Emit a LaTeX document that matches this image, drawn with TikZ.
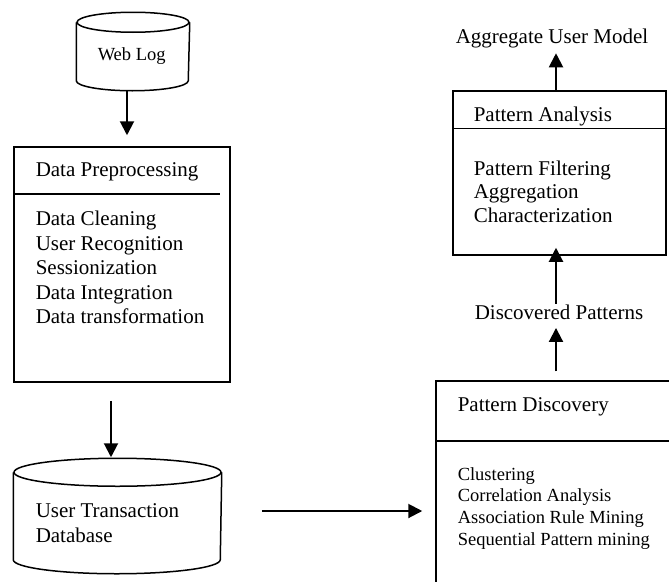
\documentclass[tikz,border=0pt]{standalone}
\usepackage{fontspec}
\setmainfont{Liberation Serif}
\usetikzlibrary{arrows.meta}

\begin{document}
\begin{tikzpicture}[x=1pt,y=-1pt,line width=1.5pt,
        big/.style={font=\fontsize{21}{24}\selectfont},
        small/.style={font=\fontsize{18.5}{22}\selectfont},
        txt/.style={inner sep=0pt,anchor=base west},
        box/.style={draw,rectangle,inner sep=0pt},
        store/.style={rectangle,inner sep=0pt},
        flow/.style={-{Triangle[length=14pt,width=14pt]},line width=2pt}]

            \useasboundingbox (0,0) rectangle (669,581);
            \clip (0,0) rectangle (669,581);

            \node[store,minimum width=112pt,minimum height=77pt] (weblog) at (133,51.5) {};
            \draw ([yshift=-10pt]weblog.north west) -- ([yshift=10pt]weblog.south west)
                arc[start angle=180,end angle=360,x radius=56pt,y radius=10pt]
                -- ([yshift=-10pt]weblog.north east);
            \draw ([yshift=-10pt]weblog.north) ellipse[x radius=56pt,y radius=10pt];
            \node[small,txt] (weblogtxt) at (97,60) {Web Log};

            \node[box,minimum width=216pt,minimum height=235pt] (prep) at (122,264.5) {};
            \node[big,txt] (prephead) at (35,176.7) {Data Preprocessing};
            \draw (prep.west |- 0,194) -- (220,194);
            \foreach \t [count=\i] in {Data Cleaning,User Recognition,Sessionization,Data Integration,Data transformation}
                \node[big,txt] (prep\i) at (35,{201.4+24.4*\i}) {\t};

            \node[store,minimum width=207pt,minimum height=114pt] (db) at (117.5,516) {};
            \draw ([yshift=-14pt]db.north west) -- ([yshift=14pt]db.south west)
                arc[start angle=180,end angle=360,x radius=103.5pt,y radius=14pt]
                -- ([yshift=-14pt]db.north east);
            \draw ([yshift=-14pt]db.north) ellipse[x radius=103.5pt,y radius=14pt];
            \node[big,txt] (dbtxt1) at (35,517) {User Transaction};
            \node[big,txt] (dbtxt2) at (35,542) {Database};

            \node[box,minimum width=254pt,minimum height=219pt] (pd) at (563,490.5) {};
            \node[big,txt] (pdhead) at (457,411.7) {Pattern Discovery};
            \draw (pd.west |- 0,441) -- (pd.east |- 0,441);
            \foreach \t [count=\i] in {Clustering,Correlation Analysis,Association Rule Mining,Sequential Pattern mining}
                \node[small,txt] (pd\i) at (457,{458.1+21.9*\i}) {\t};

            \node[big,txt] (dp) at (474,319) {Discovered Patterns};

            \node[box,minimum width=213pt,minimum height=164pt] (pa) at (559.5,173) {};
            \node[big,txt] (pahead) at (473,121.7) {Pattern Analysis};
            \draw (pa.west |- 0,128.5) -- (pa.east |- 0,128.5);
            \foreach \t [count=\i] in {Pattern Filtering,Aggregation,Characterization}
                \node[big,txt] (pa\i) at (473,{151.2+23.8*\i}) {\t};

            \node[big,txt] (aum) at (455,43) {Aggregate User Model};

            \coordinate (axis) at (556,0);
            \draw[flow,shorten >=11pt] (weblog.south -| 127,0) -- (prep.north -| 127,0);
            \draw[flow,shorten <=18pt,shorten >=1pt] (prep.south -| 111,0) -- (db.north -| 111,0);
            \draw[flow,shorten <=40pt,shorten >=13pt] (db.east |- 0,511) -- (pd.west |- 0,511);
            \draw[flow,shorten <=9pt,shorten >=8pt] (pd.north -| axis) -- (dp.south -| axis);
            \draw[flow,shorten >=-8pt] (dp.north -| axis) -- (pa.south -| axis);
            \draw[flow,shorten >=5pt] (pa.north -| axis) -- (aum.south -| axis);

\end{tikzpicture}
\end{document}
